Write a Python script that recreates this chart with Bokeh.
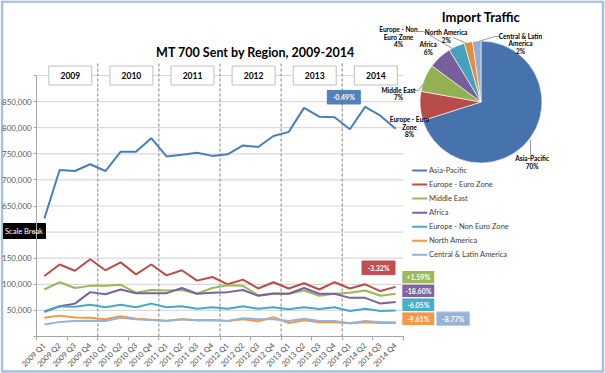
import math
from bokeh.plotting import figure
from bokeh.models import Range1d, LinearAxis, FixedTicker, Label
from bokeh.core.properties import value
from bokeh.embed import file_html
from bokeh.resources import INLINE

# ---------------- data ----------------
years = ["2009", "2010", "2011", "2012", "2013", "2014"]
quarters = [f"{y} Q{q}" for y in years for q in (1, 2, 3, 4)]

series_names = ["Asia-Pacific", "Europe - Euro Zone", "Middle East", "Africa",
                "Europe - Non Euro Zone", "North America", "Central & Latin America"]

asia_pacific = [626000, 719000, 717000, 730000, 717000, 754000, 754000, 780000,
                745000, 748000, 752000, 746000, 749000, 766000, 763000, 784000,
                792000, 838000, 821000, 820000, 797000, 840000, 823000, 798000]
europe_euro = [116000, 138000, 126000, 148000, 127000, 142000, 119000, 138000,
               117000, 127000, 107000, 114000, 100000, 109000, 92000, 104000,
               92000, 102000, 90000, 104000, 92000, 100000, 87000, 95000]
middle_east = [90000, 104000, 93000, 97000, 97000, 99000, 84000, 89000,
               88000, 89000, 82000, 93000, 98000, 97000, 79000, 83000,
               82000, 88000, 78000, 82000, 84000, 88000, 78000, 82000]
africa = [48000, 58000, 63000, 85000, 81000, 90000, 83000, 83000,
          83000, 93000, 82000, 84000, 85000, 89000, 78000, 82000,
          82000, 93000, 82000, 82000, 74000, 74000, 63000, 66000]
europe_non_euro = [47000, 58000, 57000, 61000, 56000, 61000, 56000, 63000,
                   56000, 58000, 53000, 56000, 53000, 58000, 53000, 56000,
                   52000, 56000, 52500, 56000, 49000, 53000, 49000, 50000]
north_america = [36000, 40000, 36500, 36000, 33000, 39000, 34000, 32000,
                 30000, 33000, 31000, 31500, 29500, 33000, 29000, 37000,
                 25600, 31000, 27500, 27500, 25600, 27500, 26000, 26000]
central_latin = [23000, 28000, 29500, 30000, 29500, 36000, 33000, 31500,
                 29500, 33000, 31000, 31000, 29500, 35000, 33000, 33000,
                 29500, 34000, 29500, 29500, 25600, 29500, 27500, 27500]

lower_ticks = [50000, 100000, 150000]
upper_ticks = [650000, 700000, 750000, 800000, 850000]
break_value = 600000      # displayed value at the scale break line
axis_top = 900000         # displayed value at the top of the axis
break_offset = 400000     # upper panel values are drawn shifted down by this

change_labels = ["-0.49%", "-3.32%", "+1.59%", "-18.60%", "-6.05%", "-9.61%", "-8.77%"]

pie_shares = [70.1, 7.7, 7.3, 6.2, 4.3, 2.2, 2.2]
pie_label_lines = [["Asia-Pacific"], ["Europe - Euro", "Zone"], ["Middle East"], ["Africa"],
                   ["Europe - Non", "Euro Zone"], ["North America"], ["Central & Latin", "America"]]

series = [asia_pacific, europe_euro, middle_east, africa, europe_non_euro,
          north_america, central_latin]

# ---------------- styles / layout ----------------
line_colors = ["#4A7EBB", "#BE4B48", "#98B954", "#7D60A0", "#46AAC5", "#F79646", "#95B3D7"]
pie_colors = ["#4673AB", "#B94C49", "#93B153", "#785E9A", "#46A2BC", "#E88A3C", "#93AED6"]
FONT = "Lato"

W, H = 605, 373
X0, DX = 43.84, 15.275           # page px of first category, px per category
Y0, YS = 336.0, 500000 / 261.0   # page px of zero, value per px


def xd(px):
    return (px - X0) / DX


def yd(py):
    return (Y0 - py) * YS


p = figure(width=W, height=H,
           x_range=Range1d(xd(0), xd(W)),
           y_range=Range1d(yd(H), yd(0)),
           x_axis_location=None, y_axis_location=None,
           toolbar_location=None, output_backend="svg", min_border=0)
p.outline_line_color = None
p.grid.visible = False
p.background_fill_color = "white"
p.border_fill_color = "white"

n = len(quarters)
x_lo, x_hi = -0.5, n - 0.5
top_plot = axis_top - break_offset
brk_plot = break_value - break_offset

# outer chart-area border
p.rect(x=[xd(302)], y=[yd(186)], width=601, height=370, width_units="screen",
       height_units="screen", fill_color=None, line_color="#A7C0E0", line_width=2.5)

# gridlines
grid_vals = lower_ticks + [brk_plot] + [u - break_offset for u in upper_ticks] + [top_plot]
p.segment(x0=[x_lo] * len(grid_vals), x1=[x_hi] * len(grid_vals), y0=grid_vals, y1=grid_vals,
          line_color="#d9d9d9", line_width=1.2)

# year separators
bounds = [4 * k - 0.5 for k in range(1, len(years))]
p.segment(x0=bounds, x1=bounds, y0=[0] * len(bounds), y1=[yd(62.5)] * len(bounds),
          line_color="#808080", line_width=1, line_dash="3 2")

# axes
overrides = {0: "", brk_plot: "", top_plot: ""}
for t in lower_ticks:
    overrides[t] = f"{t:,}"
for u in upper_ticks:
    overrides[u - break_offset] = f"{u:,}"
yaxis = LinearAxis(fixed_location=x_lo, bounds=(0, top_plot),
                   ticker=FixedTicker(ticks=sorted(overrides.keys())),
                   major_label_overrides=overrides)
yaxis.axis_line_color = "#a6a6a6"
yaxis.major_tick_line_color = "#a6a6a6"
yaxis.major_tick_out = 3
yaxis.major_tick_in = 0
yaxis.minor_tick_line_color = None
yaxis.major_label_standoff = 2
yaxis.major_label_text_font = FONT
yaxis.major_label_text_font_size = "8px"
yaxis.major_label_text_color = "#595959"
p.add_layout(yaxis, "left")

xaxis = LinearAxis(fixed_location=0, bounds=(x_lo, x_hi),
                   ticker=FixedTicker(ticks=list(range(n)),
                                      minor_ticks=[x_lo + 2 * k for k in range(n // 2 + 1)]),
                   major_label_overrides={i: q for i, q in enumerate(quarters)})
xaxis.axis_line_color = "#a6a6a6"
xaxis.major_tick_line_color = None
xaxis.major_tick_out = 0
xaxis.major_tick_in = 0
xaxis.minor_tick_line_color = "#a6a6a6"
xaxis.minor_tick_out = 4
xaxis.minor_tick_in = 0
xaxis.major_label_orientation = math.pi / 4
xaxis.major_label_standoff = 4
xaxis.major_label_text_font = FONT
xaxis.major_label_text_font_size = "7.5px"
xaxis.major_label_text_color = "#4d4d4d"
p.add_layout(xaxis, "below")

# series lines
xs = list(range(n))
for k, vals in enumerate(series):
    shift = break_offset if k == 0 else 0
    p.line(xs, [v - shift for v in vals], line_color=line_colors[k], line_width=2)

# year boxes
year_centers = [4 * k + 1.5 + 0.2 for k in range(len(years))]
p.rect(x=year_centers, y=[top_plot] * len(years), width=43, height=19,
       width_units="screen", height_units="screen",
       fill_color="white", line_color="#bfbfbf", line_width=1)
p.text(x=year_centers, y=[top_plot] * len(years), text=years,
       text_font=value(FONT), text_font_size="8.5px", text_font_style="bold",
       text_align="center", text_baseline="middle", text_color="#000000")

# pie
total = sum(pie_shares)
cum = [0]
for s in pie_shares:
    cum.append(cum[-1] + s)
starts = [math.pi / 2 - 2 * math.pi * c / total for c in cum[:-1]]
ends = [math.pi / 2 - 2 * math.pi * c / total for c in cum[1:]]
p.wedge(x=xd(480.5), y=yd(101.5), radius=61, radius_units="screen",
        start_angle=starts, end_angle=ends, direction="clock",
        fill_color=pie_colors, line_color="white", line_width=0.6)

# pie leader lines
leaders = [[(530, 139), (530, 154)],
           [(413, 90), (418, 90), (422, 84)],
           [(417, 31), (423, 31), (452, 48)],
           [(453, 37), (466, 43)],
           [(500, 36), (494, 36), (478, 41)]]
p.multi_line(xs=[[xd(a) for a, b in L] for L in leaders],
             ys=[[yd(b) for a, b in L] for L in leaders],
             line_color="#7f7f7f", line_width=0.8)

pie_label_pos = [(531.7, 158), (409, 119), (398, 89.5), (427.7, 44),
                 (398, 29.3), (445.7, 32), (520, 35.7)]
lx, ly, lt = [], [], []
for k, lines in enumerate(pie_label_lines):
    px, py = pie_label_pos[k]
    rows = lines + [f"{round(pie_shares[k] / total * 100)}%"]
    for j, r in enumerate(rows):
        lx.append(xd(px))
        ly.append(yd(py + 7.5 * j))
        lt.append(r)
p.text(x=lx, y=ly, text=lt, text_font=value(FONT), text_font_size="6.5px",
       text_font_style="bold", text_align="center", text_baseline="middle",
       text_color="#000000")

# legend
leg_y = [yd(170 + 14.05 * k) for k in range(len(series_names))]
p.segment(x0=[xd(411.7)] * len(leg_y), x1=[xd(426.7)] * len(leg_y), y0=leg_y, y1=leg_y,
          line_color=line_colors, line_width=2)
p.text(x=[xd(428.5)] * len(leg_y), y=leg_y, text=series_names,
       text_font=value(FONT), text_font_size="7.5px", text_baseline="middle",
       text_align="left", text_color="#404040")

# change badges
badge_pos = [(343.3, 96.7), (378, 267.3), (417.8, 276.7), (417.8, 290.3),
             (417.8, 304.2), (417.8, 318.2), (452.7, 318.2)]
bx = [xd(a) for a, b in badge_pos]
by = [yd(b) for a, b in badge_pos]
badge_fill = ["#4F81BD", "#C0504D", "#9BBB59", "#8064A2", "#4BACC6", "#F79646", "#95B3D7"]
badge_line = ["#4F81BD", "#C0504D", "white", "white", "white", "white", "#B9CDE5"]
p.rect(x=bx, y=by, width=33, height=13.6, width_units="screen", height_units="screen",
       fill_color=badge_fill, line_color=badge_line, line_width=1)
p.text(x=bx, y=by, text=change_labels, text_font=value(FONT), text_font_size="7px",
       text_font_style="bold", text_align="center", text_baseline="middle",
       text_color="white")

# scale break marker
p.rect(x=[xd(24)], y=[yd(230.5)], width=42, height=15, width_units="screen",
       height_units="screen", fill_color="black", line_color="black")
p.add_layout(Label(x=xd(23.5), y=yd(231), text="Scale Break", text_font=FONT,
                   text_font_size="7.5px", text_color="white", text_align="center",
                   text_baseline="middle"))

# titles
p.add_layout(Label(x=xd(255), y=yd(52), text="MT 700 Sent by Region, 2009-2014",
                   text_font=FONT, text_font_size="12.5px", text_font_style="bold",
                   text_align="center", text_baseline="middle", text_color="#000000"))
p.add_layout(Label(x=xd(480.5), y=yd(16), text="Import Traffic",
                   text_font=FONT, text_font_size="13px", text_font_style="bold",
                   text_align="center", text_baseline="middle", text_color="#000000"))

open("out.html", "w").write(file_html(p, INLINE))
